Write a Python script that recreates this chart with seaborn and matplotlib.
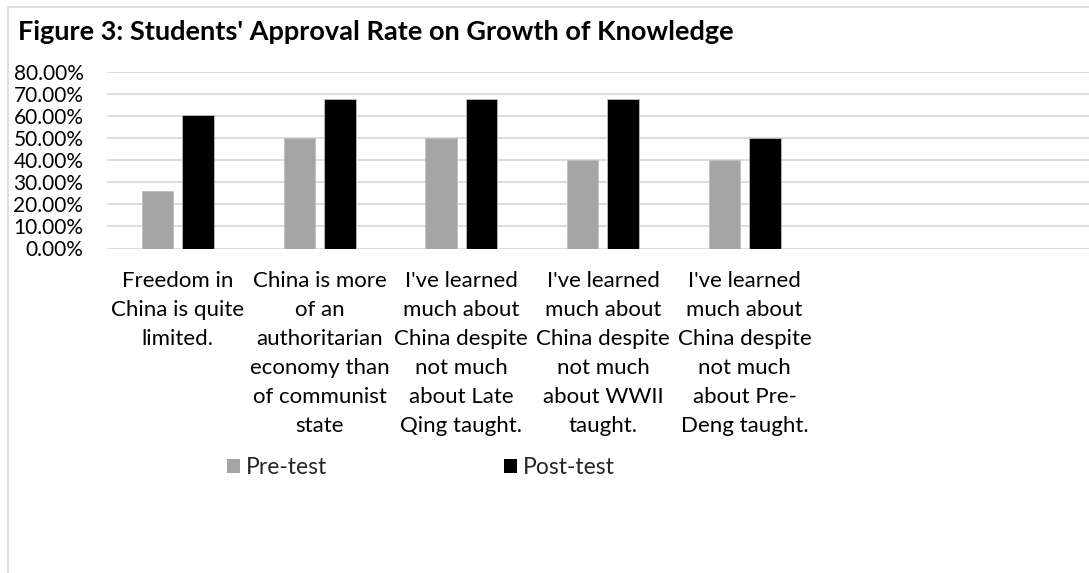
import matplotlib
matplotlib.use("Agg")
import matplotlib.pyplot as plt
import seaborn as sns
import pandas as pd
from matplotlib.patches import Rectangle
from matplotlib.ticker import FuncFormatter

categories = [
    "Freedom in\nChina is quite\nlimited.",
    "China is more\nof an\nauthoritarian\neconomy than\nof communist\nstate",
    "I've learned\nmuch about\nChina despite\nnot much\nabout Late\nQing taught.",
    "I've learned\nmuch about\nChina despite\nnot much\nabout WWII\ntaught.",
    "I've learned\nmuch about\nChina despite\nnot much\nabout Pre-\nDeng taught.",
]
series = ["Pre-test", "Post-test"]
pre_test = [0.26, 0.50, 0.50, 0.40, 0.40]
post_test = [0.605, 0.675, 0.675, 0.675, 0.50]
y_ticks = [0.0, 0.1, 0.2, 0.3, 0.4, 0.5, 0.6, 0.7, 0.8]
title = "Figure 3: Students' Approval Rate on Growth of Knowledge"

df = pd.DataFrame({
    "category": categories * 2,
    "series": [series[0]] * len(categories) + [series[1]] * len(categories),
    "value": pre_test + post_test,
})

sns.set_theme(style="white")
plt.rcParams["font.family"] = ["Lato", "DejaVu Sans"]

W, H = 1089, 573
fig = plt.figure(figsize=(W / 100, H / 100), dpi=100)
ax = fig.add_axes([107 / W, 1 - 248.5 / H, 1 - 107 / W, (248.5 - 71.7) / H])

sns.barplot(data=df, x="category", y="value", hue="series", order=categories,
            hue_order=series, palette=["#a5a5a5", "#000000"], width=0.572, gap=0.224,
            saturation=1, ax=ax, legend=True, edgecolor="#bfbfbf", linewidth=0.6)

ax.set_xlim(-0.5, -0.5 + (W - 107) / 141.7)
ax.set_ylim(0, 0.8)
ax.set_yticks(y_ticks)
ax.yaxis.set_major_formatter(FuncFormatter(lambda v, p: f"{v*100:.2f}%"))
ax.set_xlabel("")
ax.set_ylabel("")
for s in ax.spines.values():
    s.set_visible(False)
ax.grid(axis="y", color="#d9d9d9", linewidth=1.3)
ax.set_axisbelow(True)
ax.tick_params(axis="y", length=0, pad=17, labelsize=15, labelcolor="#000000")
ax.tick_params(axis="x", length=0, pad=16.5)
for lab in ax.get_xticklabels():
    lab.set_fontsize(16)
    lab.set_linespacing(1.555)
    lab.set_color("#000000")

leg = ax.legend(loc="upper left", bbox_to_anchor=(227 / W, 1 - 457 / H),
                bbox_transform=fig.transFigure, ncol=2, frameon=False,
                handlelength=0.57, handleheight=0.57, handletextpad=0.27,
                columnspacing=7.7, fontsize=16.5, borderaxespad=0, borderpad=0)
for h in leg.legend_handles:
    h.set_edgecolor("none")

fig.text(18 / W, 1 - 32 / H, title, fontsize=19.5, fontweight="bold",
         va="center", ha="left", color="#000000")

fig.patches.append(Rectangle((8 / W, -0.05), 1.2, 1 - 7 / H + 0.05,
                             transform=fig.transFigure, fill=False,
                             edgecolor="#d9d9d9", linewidth=1.2))

fig.savefig("out.png", dpi=100)
